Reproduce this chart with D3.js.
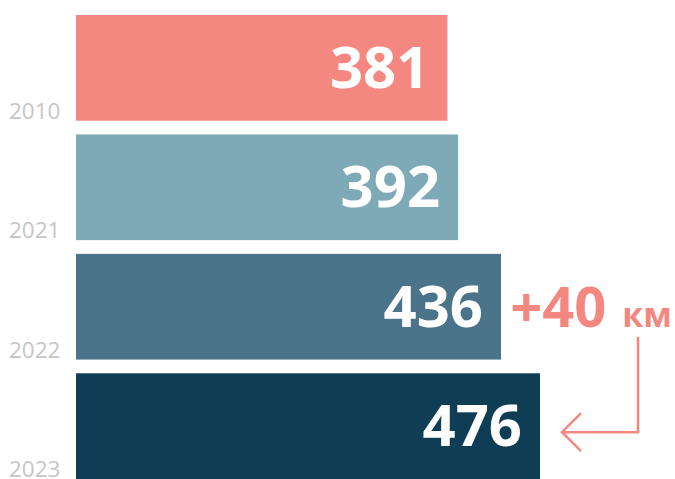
<!DOCTYPE html>
<html>
<head>
<meta charset="utf-8">
<script src="https://cdn.jsdelivr.net/npm/d3@7"></script>
<style>
  body { margin: 0; background: #fff; }
  svg { display: block; font-family: "Open Sans", sans-serif; }
</style>
</head>
<body>
<div id="chart"></div>
<script>
// data
const years = ["2010", "2021", "2022", "2023"];
const values = [381, 392, 436, 476];
const colors = ["#f4877f", "#7eaab7", "#4b7389", "#0e3d55"];
const deltaLabel = "+40";
const deltaUnit = "км";

const width = 675;
const height = 479;
const marginLeft = 76;

const data = years.map((y, i) => ({ year: y, value: values[i], color: colors[i] }));

const x = d3.scaleLinear()
  .domain([0, 476])
  .range([marginLeft, 540]);

const y = d3.scaleBand()
  .domain(years)
  .range([15, 479])
  .paddingInner(0.115)
  .paddingOuter(0);

const svg = d3.select("#chart")
  .append("svg")
  .attr("width", width)
  .attr("height", height)
  .attr("viewBox", [0, 0, width, height]);

// bars
svg.append("g")
  .selectAll("rect")
  .data(data)
  .join("rect")
  .attr("x", x(0))
  .attr("y", d => y(d.year))
  .attr("width", d => x(d.value) - x(0))
  .attr("height", y.bandwidth())
  .attr("fill", d => d.color);

// value labels inside bars
svg.append("g")
  .selectAll("text")
  .data(data)
  .join("text")
  .attr("x", d => x(d.value) - 18)
  .attr("y", d => y(d.year) + y.bandwidth() / 2 + 20)
  .attr("text-anchor", "end")
  .attr("fill", "#fff")
  .attr("font-size", 58)
  .attr("font-weight", 700)
  .text(d => d.value);

// year labels at the bottom left of each bar
svg.append("g")
  .selectAll("text")
  .data(data)
  .join("text")
  .attr("x", 9)
  .attr("y", d => y(d.year) + y.bandwidth() - 2)
  .attr("fill", "#c6c6c6")
  .attr("font-size", 22.5)
  .text(d => d.year);

// annotation: +40 km, right-aligned to the chart edge
const last = data[data.length - 1];
const prev = data[data.length - 2];
const noteY = y(prev.year) + y.bandwidth() / 2 + 20;

const note = svg.append("text")
  .attr("x", 672)
  .attr("y", noteY)
  .attr("text-anchor", "end")
  .attr("fill", "#f4877f")
  .attr("font-weight", 700);
note.append("tspan")
  .attr("font-size", 56)
  .text(deltaLabel);
note.append("tspan")
  .attr("font-size", 34)
  .attr("dx", 16)
  .text(deltaUnit);

// arrow
const ax = 638;
const tipX = x(last.value) + 22;
const ay = y(last.year) + y.bandwidth() / 2 + 6;
svg.append("path")
  .attr("d", `M${ax},${noteY + 10} V${ay} H${tipX} M${tipX + 19},${ay - 19} L${tipX},${ay} L${tipX + 19},${ay + 19}`)
  .attr("fill", "none")
  .attr("stroke", "#f4877f")
  .attr("stroke-width", 2.5);
</script>
</body>
</html>
